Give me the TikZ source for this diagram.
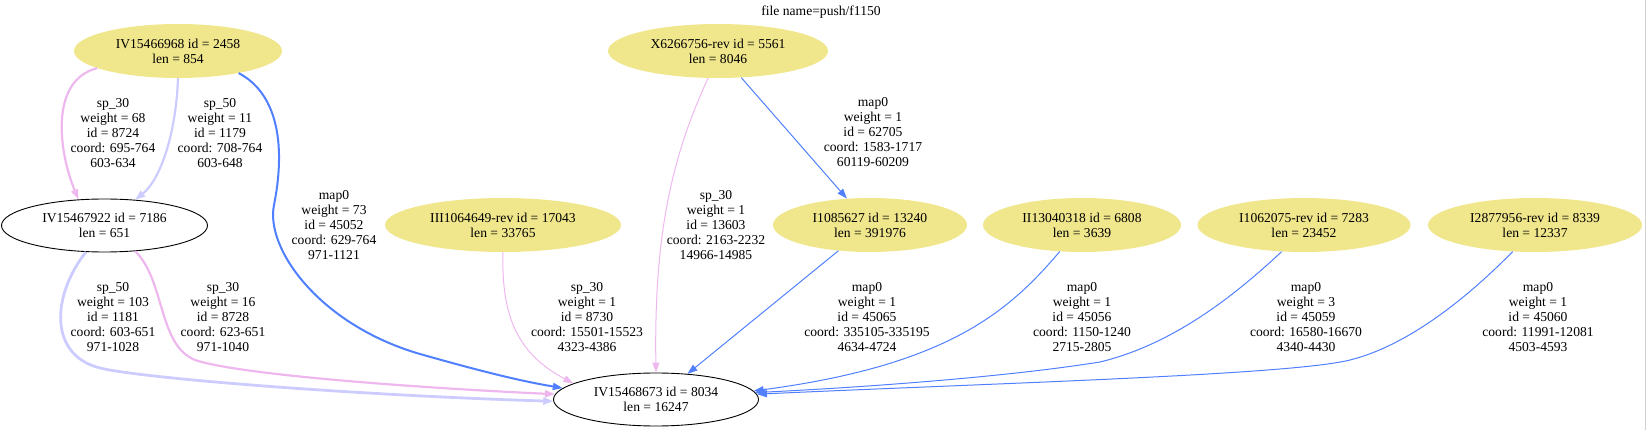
\documentclass[tikz,border=0pt]{standalone}
\usepackage{fontspec}
\setmainfont{Liberation Serif}
\usetikzlibrary{
  arrows.meta,      % Triangle 箭头
  shapes.geometric, % 椭圆节点
  positioning       % 节点相对定位
}
\definecolor{edgeblue}{RGB}{80,128,255}
\definecolor{edgepink}{RGB}{238,184,238}
\definecolor{edgelav}{RGB}{204,204,255}
\definecolor{seqkhaki}{RGB}{240,230,140}

\begin{document}
\begin{tikzpicture}[x=1pt, y=-1pt, >={Triangle[length=10pt,width=7pt]},
  seqnode/.style={ellipse, fill=seqkhaki, inner sep=0pt, minimum height=54pt,
    align=center, font=\fontsize{13.6}{15}\selectfont},
  qrynode/.style={ellipse, draw=black, line width=0.9pt, inner sep=0pt,
    minimum height=53pt, align=center, font=\fontsize{13.6}{15}\selectfont},
  elabel/.style={align=center, inner sep=0pt, font=\fontsize{13.6}{15}\selectfont},
  blueline/.style={->, draw=edgeblue, line width=1pt},
  pinkline/.style={->, draw=edgepink, line width=1pt}]

  % 图幅
  \useasboundingbox (0,0) rectangle (1647,430);
  \draw[black!18, line width=1.5pt] (1645.5,0) -- (1645.5,430);

  % =========== 标题 ===========
  \node[font=\fontsize{13.6}{15}\selectfont] (title) at (821,12) {file name=push/f1150};

  % =========== 节点 ===========
  \node[seqnode, minimum width=208pt] (n2458) at (178,51) {IV15466968 id = 2458\\len = 854};
  \node[qrynode, minimum width=206pt] (n7186) at (104.5,225.5) {IV15467922 id = 7186\\len = 651};
  \node[seqnode, minimum width=220pt] (n5561) at (718,51) {X6266756-rev id = 5561\\len = 8046};
  \node[seqnode, minimum width=236pt] (n17043) at (503,225) {III1064649-rev id = 17043\\len = 33765};
  \node[seqnode, minimum width=194pt] (n13240) at (870,225) {I1085627 id = 13240\\len = 391976};
  \node[seqnode, minimum width=198pt] (n6808) at (1082,225) {II13040318 id = 6808\\len = 3639};
  \node[seqnode, minimum width=213pt] (n7283) at (1304,225) {I1062075-rev id = 7283\\len = 23452};
  \node[seqnode, minimum width=214pt] (n8339) at (1535,225) {I2877956-rev id = 8339\\len = 12337};
  \node[qrynode, minimum width=205pt] (n8034) at (656,399.5) {IV15468673 id = 8034\\len = 16247};

  % =========== 第一层的边 ===========
  \draw[->, draw=edgepink, line width=2.2pt] (n2458.192) .. controls (50,80) and (58,150) .. (n7186.135);
  \draw[->, draw=edgelav, line width=2.2pt] (n2458.270) .. controls (176,135) and (160,180) .. (n7186.40);
  \draw[->, draw=edgeblue, line width=2pt] (n2458.-20) .. controls (280,95) and (285,150) .. (274,205)
    .. controls (265,249) and (320,325) .. (420,354)
    .. controls (480,371) and (520,381) .. (n8034.173);
  \draw[pinkline] (n5561.250) .. controls (670,160) and (654,240) .. (n8034.90);
  \draw[blueline] (n5561) -- (n13240);

  % 边标签
  \node[elabel] (l1) at (113,133) {sp\_30\\weight = 68\\id = 8724\\coord: 695-764\\603-634};
  \node[elabel] (l2) at (220,133) {sp\_50\\weight = 11\\id = 1179\\coord: 708-764\\603-648};
  \node[elabel] (l3) at (334,225) {map0\\weight = 73\\id = 45052\\coord: 629-764\\971-1121};
  \node[elabel] (l6) at (716,225) {sp\_30\\weight = 1\\id = 13603\\coord: 2163-2232\\14966-14985};
  \node[elabel] (l7) at (873,132) {map0\\weight = 1\\id = 62705\\coord: 1583-1717\\60119-60209};

  % =========== 第二层的边 ===========
  \draw[->, draw=edgelav, line width=2.8pt] (n7186.235) .. controls (52,295) and (48,355) .. (100,368)
    .. controls (140,378) and (350,395) .. (n8034.181);
  \draw[->, draw=edgepink, line width=2.2pt] (n7186.320) .. controls (165,280) and (158,345) .. (195,360)
    .. controls (240,375) and (420,388) .. (n8034.177);
  \draw[pinkline] (n17043.270) .. controls (501,320) and (520,355) .. (n8034.169);
  \draw[blueline] (n13240) -- (n8034);
  \draw[blueline] (n6808.230) .. controls (1010,310) and (950,365) .. (n8034.5);
  \draw[blueline] (n7283.230) .. controls (1230,300) and (1170,345) .. (1100,362)
    .. controls (1000,378) and (850,388) .. (n8034.4);
  \draw[blueline] (n8339.230) .. controls (1470,295) and (1410,345) .. (1350,360)
    .. controls (1290,375) and (1000,383) .. (n8034.3);

  % 边标签
  \node[elabel] (l4) at (113,317) {sp\_50\\weight = 103\\id = 1181\\coord: 603-651\\971-1028};
  \node[elabel] (l5) at (223,317) {sp\_30\\weight = 16\\id = 8728\\coord: 623-651\\971-1040};
  \node[elabel] (l8) at (587,317) {sp\_30\\weight = 1\\id = 8730\\coord: 15501-15523\\4323-4386};
  \node[elabel] (l9) at (867,317) {map0\\weight = 1\\id = 45065\\coord: 335105-335195\\4634-4724};
  \node[elabel] (l10) at (1082,317) {map0\\weight = 1\\id = 45056\\coord: 1150-1240\\2715-2805};
  \node[elabel] (l11) at (1306,317) {map0\\weight = 3\\id = 45059\\coord: 16580-16670\\4340-4430};
  \node[elabel] (l12) at (1538,317) {map0\\weight = 1\\id = 45060\\coord: 11991-12081\\4503-4593};

\end{tikzpicture}
\end{document}
